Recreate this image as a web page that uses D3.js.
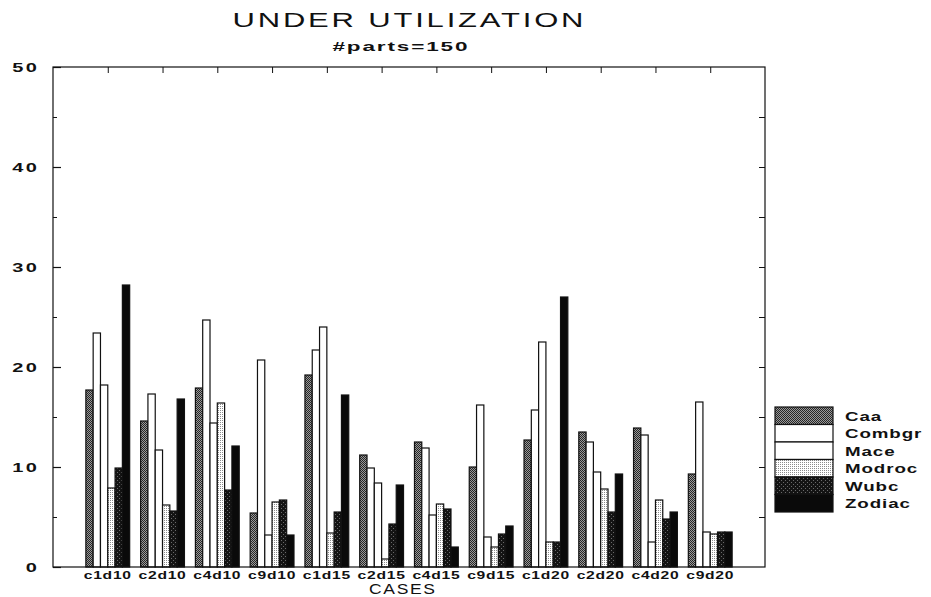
<!DOCTYPE html>
<html>
<head>
<meta charset="utf-8">
<script src="https://cdn.jsdelivr.net/npm/d3@7"></script>
<style>
  html, body { margin: 0; padding: 0; background: #fff; }
  svg { display: block; }
  text { font-family: "Liberation Sans", Arial, sans-serif; fill: #111; }
</style>
</head>
<body>
<svg id="chart" width="931" height="597"></svg>
<script>
// ---- data ----
const categories = ["c1d10","c2d10","c4d10","c9d10","c1d15","c2d15","c4d15","c9d15","c1d20","c2d20","c4d20","c9d20"];
const seriesNames = ["Caa","Combgr","Mace","Modroc","Wubc","Zodiac"];
const caa    = [17.7, 14.6, 17.9, 5.4, 19.2, 11.2, 12.5, 10.0, 12.7, 13.5, 13.9, 9.3];
const combgr = [23.4, 17.3, 24.7, 20.7, 21.7, 9.9, 11.9, 16.2, 15.7, 12.5, 13.2, 16.5];
const mace   = [18.2, 11.7, 14.4, 3.2, 24.0, 8.4, 5.2, 3.0, 22.5, 9.5, 2.5, 3.5];
const modroc = [7.9, 6.2, 16.4, 6.5, 3.4, 0.8, 6.3, 2.0, 2.5, 7.8, 6.7, 3.3];
const wubc   = [9.9, 5.6, 7.7, 6.7, 5.5, 4.3, 5.8, 3.3, 2.5, 5.5, 4.8, 3.5];
const zodiac = [28.2, 16.8, 12.1, 3.2, 17.2, 8.2, 2.0, 4.1, 27.0, 9.3, 5.5, 3.5];
const yTicks = [0, 10, 20, 30, 40, 50];
const yMinorTicks = [5, 15, 25, 35, 45];
const titleText = "UNDER UTILIZATION";
const subtitleText = "#parts=150";
const xTitle = "CASES";

const seriesValues = [caa, combgr, mace, modroc, wubc, zodiac];

// ---- layout ----
const svg = d3.select("#chart");
const xL = 53, xR = 765, yT = 67, yB = 567;
const step = (xR - xL) / 13;

// horizontally stretched text helper (the original uses a wide font)
function wideText(parent, x, y, str, o) {
  const sx = o.sx || 1;
  const t = parent.append("text")
    .attr("transform", `scale(${sx},1)`)
    .attr("x", x / sx).attr("y", y)
    .attr("font-size", o.size)
    .attr("font-weight", o.weight || "normal")
    .attr("text-anchor", o.anchor || "start")
    .text(str);
  if (o.ls) t.attr("letter-spacing", o.ls);
  if (o.width) t.attr("textLength", o.width / sx).attr("lengthAdjust", "spacing");
  return t;
}

// ---- patterns ----
const defs = svg.append("defs");
function pat(id, size, bg, dots) {
  const p = defs.append("pattern").attr("id", id).attr("width", size).attr("height", size)
    .attr("patternUnits", "userSpaceOnUse");
  p.append("rect").attr("width", size).attr("height", size).attr("fill", bg);
  dots.forEach(d => p.append("rect").attr("x", d[0]).attr("y", d[1]).attr("width", 1).attr("height", 1).attr("fill", d[2]));
}
pat("pCaa", 2, "#262626", [[1,0,"#9a9a9a"],[0,1,"#9a9a9a"]]);
pat("pModroc", 2, "#ffffff", [[0,0,"#8c8c8c"]]);
pat("pWubc", 4, "#141414", [[1,0,"#6a6a6a"],[3,2,"#6a6a6a"]]);
const fills = ["url(#pCaa)", "#ffffff", "#ffffff", "url(#pModroc)", "url(#pWubc)", "#0a0a0a"];

// ---- scales ----
const x = d3.scalePoint().domain(categories).range([xL + step, xR - step]);
const xInner = d3.scaleBand().domain(seriesNames).range([-0.4 * step, 0.4 * step]).padding(0);
const y = d3.scaleLinear().domain([0, 50]).range([yB, yT]);

// ---- bars ----
const g = svg.append("g");
seriesNames.forEach((s, si) => {
  g.selectAll(null).data(categories).enter().append("rect")
    .attr("x", c => x(c) + xInner(s))
    .attr("y", (c, i) => y(seriesValues[si][i]))
    .attr("width", xInner.bandwidth())
    .attr("height", (c, i) => yB - y(seriesValues[si][i]))
    .attr("fill", fills[si])
    .attr("stroke", "#111")
    .attr("stroke-width", 1.2);
});

// ---- frame ----
svg.append("rect").attr("x", xL).attr("y", yT).attr("width", xR - xL).attr("height", yB - yT)
  .attr("fill", "none").attr("stroke", "#111").attr("stroke-width", 1.2);

// left axis (ticks point inward, labels drawn wide)
const leftAxis = svg.append("g").attr("transform", `translate(${xL},0)`)
  .call(d3.axisLeft(y).tickValues(yTicks).tickSize(-8).tickFormat(""));
leftAxis.select(".domain").remove();
leftAxis.selectAll("line").attr("stroke", "#111").attr("stroke-width", 1.2);
const leftMinor = svg.append("g").attr("transform", `translate(${xL},0)`)
  .call(d3.axisLeft(y).tickValues(yMinorTicks).tickSize(-4).tickFormat(""));
leftMinor.select(".domain").remove();
leftMinor.selectAll("line").attr("stroke", "#111");
const yLab = svg.append("g");
yTicks.forEach(v => wideText(yLab, 39, y(v) + 5, String(v), {size: 12.5, weight: "bold", sx: 1.6, ls: 1.4, anchor: "end"}));

// right axis
const rightAxis = svg.append("g").attr("transform", `translate(${xR},0)`)
  .call(d3.axisRight(y).tickValues(yMinorTicks.concat(yTicks.slice(1, -1))).tickSize(-6).tickFormat(""));
rightAxis.select(".domain").remove();
rightAxis.selectAll("line").attr("stroke", "#111");

// top axis ticks
const topAxis = svg.append("g").attr("transform", `translate(0,${yT})`)
  .call(d3.axisTop(x).tickSize(-6).tickFormat(""));
topAxis.select(".domain").remove();
topAxis.selectAll("line").attr("stroke", "#111");

// bottom axis labels
const xLab = svg.append("g");
categories.forEach(c => wideText(xLab, x(c), 579.5, c, {size: 10.8, weight: "bold", sx: 1.45, ls: 0.5, anchor: "middle"}));

// ---- titles ----
wideText(svg, 408, 27, titleText, {size: 20, sx: 1.55, width: 351, anchor: "middle"});
wideText(svg, 400, 51, subtitleText, {size: 12.5, weight: "bold", sx: 1.8, width: 135, anchor: "middle"});
wideText(svg, 402, 594, xTitle, {size: 14, sx: 1.25, width: 66, anchor: "middle"});

// ---- legend ----
const legY = d3.scaleBand().domain(seriesNames).range([407, 512]);
const leg = svg.append("g");
seriesNames.forEach((s, si) => {
  leg.append("rect").attr("x", 775).attr("y", legY(s)).attr("width", 58).attr("height", legY.bandwidth())
    .attr("fill", fills[si]).attr("stroke", "#111").attr("stroke-width", 1.2);
  wideText(leg, 845, legY(s) + legY.bandwidth() / 2 + 5, s, {size: 12.5, weight: "bold", sx: 1.5, ls: 0.6});
});
</script>
</body>
</html>
